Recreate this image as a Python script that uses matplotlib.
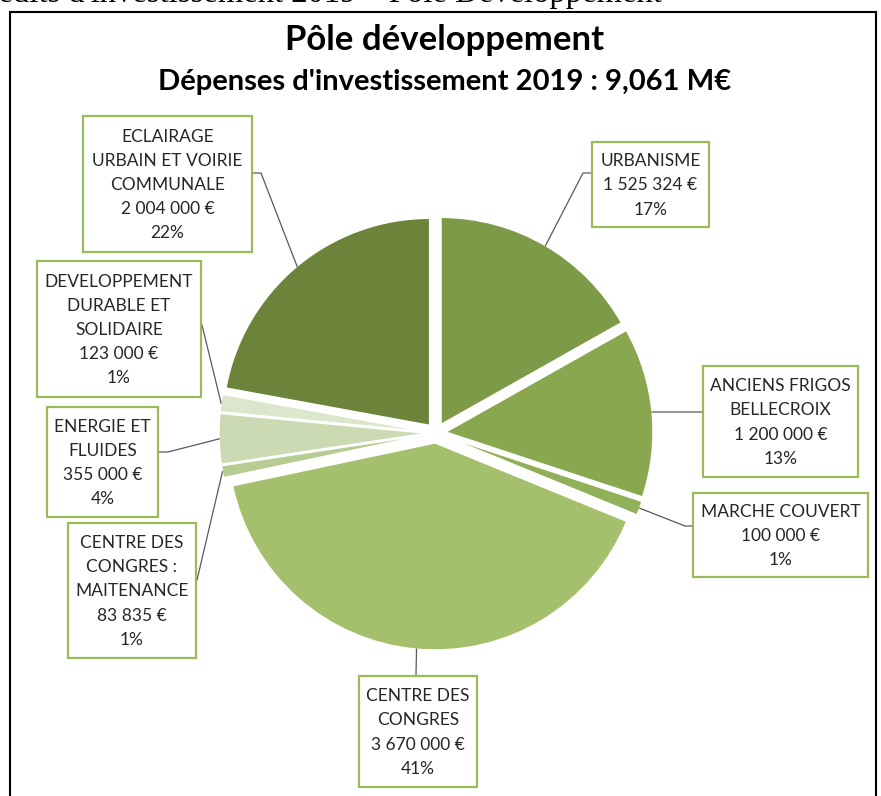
import numpy as np
import matplotlib.pyplot as plt
from matplotlib.patches import Rectangle

# data (clockwise from 12 o'clock)
names = ["URBANISME",
         "ANCIENS FRIGOS\nBELLECROIX",
         "MARCHE COUVERT",
         "CENTRE DES\nCONGRES",
         "CENTRE DES\nCONGRES :\nMAITENANCE",
         "ENERGIE ET\nFLUIDES",
         "DEVELOPPEMENT\nDURABLE ET\nSOLIDAIRE",
         "ECLAIRAGE\nURBAIN ET VOIRIE\nCOMMUNALE"]
values = [1525324, 1200000, 100000, 3670000, 83835, 355000, 123000, 2004000]
colors = ["#7d9a48", "#89a74e", "#92b059", "#a5c06d",
          "#b6cc90", "#cbdab3", "#dce6cc", "#6b843a"]

title = "Pôle développement"
subtitle = "Dépenses d'investissement 2019 : 9,061 M€"
doc_header = "Crédits d'investissement 2019 – Pôle Développement"

# label boxes in pixel coords: (left, top, right, bottom), and leader path to box
boxes = [(592, 142, 709, 227), (703, 366, 858, 477), (693, 493, 868, 577),
         (359, 676, 477, 787), (68, 523, 196, 658), (47, 407, 158, 517),
         (37, 261, 201, 397), (83, 116, 252, 252)]
leaders = [[(583, 173), (592, 173)], [(703, 412)], [(685, 526), (693, 526)],
           [(416, 676)], [(197, 580)], [(168, 452), (158, 452)],
           [(202, 325)], [(261, 173), (252, 173)]]

W, H = 881, 796
fig = plt.figure(figsize=(W / 100, H / 100), dpi=100)
ax = fig.add_axes([0, 0, 1, 1])

font = "Lato"
total = sum(values)
R = 207
cx, cy = 436, 433

# explode is in data units here (pixels)
wedges, _ = ax.pie(values, colors=colors, startangle=-90, counterclock=True,
                   radius=R, center=(cx, cy), explode=[10] * len(values),
                   wedgeprops=dict(edgecolor="white", linewidth=1.0))

ax.set_xlim(0, W)
ax.set_ylim(H, 0)
ax.set_aspect("equal")
ax.axis("off")

for w, name, v, box, path in zip(wedges, names, values, boxes, leaders):
    mid = np.deg2rad((w.theta1 + w.theta2) / 2)
    ax0 = w.center[0] + w.r * np.cos(mid)
    ay0 = w.center[1] + w.r * np.sin(mid)
    xs = [ax0] + [p[0] for p in path]
    ys = [ay0] + [p[1] for p in path]
    ax.plot(xs, ys, color="#595959", lw=0.9, zorder=3)
    l, t, r, b = box
    ax.add_patch(Rectangle((l, t), r - l, b - t, facecolor="white",
                           edgecolor="#9bbb59", lw=1.6, zorder=4))
    txt = "%s\n%s €\n%d%%" % (name, f"{v:,}".replace(",", " "),
                              round(v / total * 100))
    ax.text((l + r) / 2, (t + b) / 2 + 1, txt, ha="center", va="center",
            fontsize=12.5, family=font, color="#262626", linespacing=1.62,
            zorder=5)

ax.text(W / 2 + 4, 40, title, ha="center", va="center", fontsize=25,
        fontweight="bold", family=font)
ax.text(W / 2 + 4, 82, subtitle, ha="center", va="center", fontsize=21,
        fontweight="bold", family=font)
# page header above the chart, cut off by the top of the image
ax.text(662, 2, doc_header, ha="right", va="baseline", fontsize=23.5,
        family="Liberation Serif")

# chart frame
ax.plot([10, 10, 876, 876], [H, 12, 12, H], color="black", lw=1.5,
        solid_joinstyle="miter")

fig.savefig("out.png", dpi=100)
